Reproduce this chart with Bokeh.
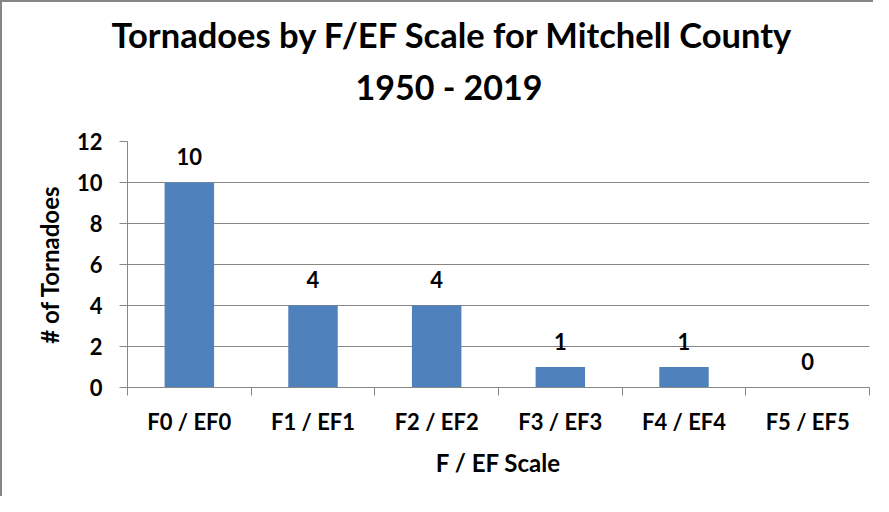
from bokeh.plotting import figure
from bokeh.models import FixedTicker, Title, ColumnDataSource, Range1d
from bokeh.embed import file_html
from bokeh.resources import INLINE

categories = ["F0 / EF0", "F1 / EF1", "F2 / EF2", "F3 / EF3", "F4 / EF4", "F5 / EF5"]
counts = [10, 4, 4, 1, 1, 0]
y_ticks = [0, 2, 4, 6, 8, 10, 12]
title_lines = ["Tornadoes by F/EF Scale for Mitchell County", "1950 - 2019"]

FONT = "Lato"
GRID = "#878787"
BAR = "#4F81BD"

xpos = [i + 0.5 for i in range(len(categories))]
src = ColumnDataSource(dict(x=xpos, y=counts, lab=[str(c) for c in counts]))

p = figure(width=873, height=496, output_backend="svg", toolbar_location=None,
           x_range=Range1d(0, len(categories)), y_range=Range1d(0, 12),
           min_border_left=125, min_border_right=6, min_border_bottom=111, min_border_top=0)
p.styles = {"border-left": "2px solid #868686", "border-top": "2px solid #868686"}
p.outline_line_color = None
p.background_fill_color = "white"
p.border_fill_color = "white"

# spacer between second title line and plot area
p.add_layout(Title(text=" ", text_font=FONT, text_font_size="20px", standoff=9), "above")
p.add_layout(Title(text=title_lines[1], align="left", offset=228, text_font=FONT,
                   text_font_size="34px", text_font_style="bold", text_color="black", standoff=0), "above")
p.add_layout(Title(text=title_lines[0], align="left", offset=-16, text_font=FONT,
                   text_font_size="34.5px", text_font_style="bold", text_color="black", standoff=18), "above")

p.vbar(x="x", top="y", width=0.4, source=src, fill_color=BAR, line_color=None)
p.text(x="x", y="y", text="lab", source=src, text_align="center", text_baseline="middle",
       y_offset=-26, text_font_size="22px", text_font_style="bold", text_color="black",
       text_font={"value": FONT})

p.xgrid.visible = False
p.ygrid.ticker = FixedTicker(ticks=y_ticks)
p.ygrid.grid_line_color = GRID
p.ygrid.grid_line_width = 1

p.yaxis.ticker = FixedTicker(ticks=y_ticks)
p.yaxis.axis_label = "# of Tornadoes"
p.xaxis.ticker = FixedTicker(ticks=xpos, minor_ticks=list(range(len(categories) + 1)))
p.xaxis.major_label_overrides = {x: c for x, c in zip(xpos, categories)}
p.xaxis.axis_label = "F / EF Scale"

for ax in (p.xaxis[0], p.yaxis[0]):
    ax.axis_line_color = GRID
    ax.major_label_text_font = FONT
    ax.major_label_text_font_size = "22px"
    ax.major_label_text_font_style = "bold"
    ax.major_label_text_color = "black"
    ax.axis_label_text_font = FONT
    ax.axis_label_text_font_size = "24px"
    ax.axis_label_text_font_style = "bold"
    ax.axis_label_text_color = "black"
    ax.minor_tick_in = 0

p.yaxis.major_tick_out = 8
p.yaxis.major_tick_in = 0
p.yaxis.major_tick_line_color = GRID
p.yaxis.minor_tick_line_color = None
p.yaxis.major_label_standoff = 17
p.yaxis.axis_label_standoff = 10

p.xaxis.major_tick_out = 0
p.xaxis.major_tick_in = 0
p.xaxis.major_tick_line_color = None
p.xaxis.minor_tick_out = 8
p.xaxis.minor_tick_line_color = GRID
p.xaxis.major_label_standoff = 12
p.xaxis.axis_label_standoff = 10

open("out.html", "w").write(file_html(p, INLINE))
